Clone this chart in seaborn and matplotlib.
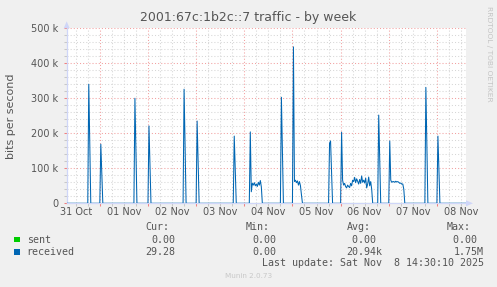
import numpy as np
import pandas as pd
import matplotlib
matplotlib.use("Agg")
import matplotlib.pyplot as plt
from matplotlib.patches import Polygon, Rectangle
import seaborn as sns

# ---------------- data (hours since 31 Oct 00:00, bits per second) ----------------
recv_hours = [7.5,
              18.0, 18.5, 19.5,
              24.0, 24.5, 25.5,
              41.0, 41.5, 42.5,
              48.0, 48.5, 49.5,
              65.5, 66.0, 67.0,
              72.0, 72.5, 73.5,
              90.5, 91.0, 92.0,
              98.5, 99.0, 99.5, 100.0, 100.5, 101.0, 101.5, 102.0, 102.5, 103.0, 103.5, 104.0, 104.5, 105.0,
              114.0, 114.5, 115.5,
              120.0, 120.5, 121.0, 121.5, 122.0, 122.5, 123.0, 123.5, 124.0, 124.5, 125.0,
              138.0, 138.5, 139.0, 140.0,
              144.0, 144.5, 145.0, 145.5, 146.0, 146.5, 147.0, 147.5, 148.0, 148.5, 149.0, 149.5,
              150.0, 150.5, 151.0, 151.5, 152.0, 152.5, 153.0, 153.5, 154.0, 154.5,
              155.0, 155.5, 156.0, 156.5, 157.0, 157.5, 158.0, 158.5, 159.0, 159.5, 160.0,
              162.5, 163.0, 164.0,
              168.0, 168.5, 169.0, 169.5, 170.0, 170.5, 171.0, 171.5, 172.0, 172.5, 173.0, 173.5,
              174.0, 174.5, 175.0, 175.5, 176.0,
              186.0, 186.5, 187.5,
              192.0, 192.5, 193.5,
              206.5]
recv_values = [0,
               0, 340000, 0,
               0, 169000, 0,
               0, 300000, 0,
               0, 221000, 0,
               0, 326000, 0,
               0, 235000, 0,
               0, 192000, 0,
               0, 204000, 33000, 57000, 52000, 59000, 50000, 55000, 48000, 60000, 52000, 65000, 47000, 0,
               0, 303000, 0,
               0, 447000, 62000, 66000, 59000, 64000, 52000, 62000, 50000, 24000, 0,
               0, 172000, 178000, 0,
               0, 203000, 66000, 52000, 57000, 48000, 44000, 52000, 48000, 45000, 57000, 50000,
               66000, 62000, 74000, 59000, 70000, 63000, 55000, 68000, 57000, 78000,
               60000, 66000, 58000, 72000, 44000, 55000, 75000, 50000, 62000, 40000, 0,
               0, 252000, 0,
               0, 178000, 66000, 60000, 62000, 62000, 60000, 63000, 61000, 62000, 60000, 57000,
               58000, 55000, 55000, 40000, 0,
               0, 331000, 0,
               0, 192000, 0,
               29.28]
sent_hours = [7.5, 206.5]
sent_values = [0, 0]

day_labels = ["31 Oct", "01 Nov", "02 Nov", "03 Nov", "04 Nov", "05 Nov", "06 Nov", "07 Nov", "08 Nov"]
y_ticks = [0, 100000, 200000, 300000, 400000, 500000]
y_labels = ["0", "100 k", "200 k", "300 k", "400 k", "500 k"]

legend_names = ["sent", "received"]
legend_colors = ["#00CC00", "#0066B3"]
cur_vals = ["0.00", "29.28"]
min_vals = ["0.00", "0.00"]
avg_vals = ["0.00", "20.94k"]
max_vals = ["0.00", "1.75M"]

# ---------------- figure ----------------
W, H = 497, 287
fig = plt.figure(figsize=(W / 100, H / 100), dpi=100, facecolor="#F0F0F0")


def fx(px):
    return px / W


def fy(py):
    return 1 - py / H


L, R, T, B = 66.7, 466.0, 28.3, 203.3
ax = fig.add_axes([fx(L), fy(B), (R - L) / W, (B - T) / H])
ax.set_facecolor("white")

df_recv = pd.DataFrame({"hour": recv_hours, "bps": recv_values})
df_sent = pd.DataFrame({"hour": sent_hours, "bps": sent_values})
sns.lineplot(data=df_sent, x="hour", y="bps", color=legend_colors[0], linewidth=0.75,
             estimator=None, sort=False, ax=ax, zorder=3)
sns.lineplot(data=df_recv, x="hour", y="bps", color=legend_colors[1], linewidth=0.75,
             estimator=None, sort=False, ax=ax, zorder=4)

ax.set_xlim(7.5, 206.5)
ax.set_ylim(0, 500000)
ax.set_xlabel("")
ax.set_ylabel("")

midnights = [24 * k for k in range(1, 9)]
six_hours = [h for h in range(12, 207, 6) if h % 24 != 0]
ax.set_xticks(midnights)
ax.set_xticks(six_hours, minor=True)
ax.set_xticklabels([])
ax.set_yticks(y_ticks)
ax.set_yticks([v for v in range(0, 500001, 20000) if v % 100000 != 0], minor=True)
ax.set_yticklabels(y_labels)

ax.set_axisbelow(True)
ax.grid(which="major", color="#F2A0A0", linestyle=(0, (1, 2)), linewidth=0.75)
ax.grid(which="minor", color="#D6D6D6", linestyle=(0, (1, 2)), linewidth=0.75)
ax.tick_params(axis="x", which="major", length=2, width=0.75, color="#F08080")
ax.tick_params(axis="x", which="minor", length=2, width=0.75, color="#C8C8C8")
ax.tick_params(axis="y", which="major", length=2, width=0.75, color="#F08080",
               labelsize=7, labelcolor="#555555", pad=4)
ax.tick_params(axis="y", which="minor", length=2, width=0.75, color="#C8C8C8")

for s in ["top", "right"]:
    ax.spines[s].set_visible(False)
for s in ["left", "bottom"]:
    ax.spines[s].set_color("#CFD6F8")
    ax.spines[s].set_linewidth(0.9)

# day labels centred on noon
xt = ax.get_xaxis_transform()
for i, lab in enumerate(day_labels):
    ax.text(12 + 24 * i, -0.05, lab, transform=xt, ha="center", va="center",
            fontsize=7, color="#555555", clip_on=False)

# axis arrows
axis_col = "#CFD6F8"
fig.add_artist(Polygon([[fx(L - 3), fy(T)], [fx(L + 3), fy(T)], [fx(L), fy(T - 7)]],
                       closed=True, transform=fig.transFigure, color=axis_col, lw=0))
fig.add_artist(Polygon([[fx(R), fy(B - 3)], [fx(R), fy(B + 3)], [fx(R + 7), fy(B)]],
                       closed=True, transform=fig.transFigure, color=axis_col, lw=0))

# titles
fig.text(fx(248.5), fy(18), "2001:67c:1b2c::7 traffic - by week", ha="center", va="center",
         fontsize=9, color="#555555")
fig.text(fx(11), fy(116), "bits per second", rotation=90, ha="center", va="center",
         fontsize=8, color="#555555")
fig.text(fx(488.5), fy(53.5), "RRDTOOL / TOBI OETIKER", rotation=270, ha="center", va="center",
         fontsize=5.4, color="#C4C4C4")

# legend block
mono = "DejaVu Sans Mono"
fs = 7.2
col = "#555555"
fig.text(fx(145.7), fy(227.3), "Cur:", ha="left", va="center", fontsize=fs, family=mono, color=col)
fig.text(fx(246.0), fy(227.3), "Min:", ha="left", va="center", fontsize=fs, family=mono, color=col)
fig.text(fx(346.7), fy(227.3), "Avg:", ha="left", va="center", fontsize=fs, family=mono, color=col)
fig.text(fx(447.0), fy(227.3), "Max:", ha="left", va="center", fontsize=fs, family=mono, color=col)

rows_y = [239.6, 251.7]
for i in range(2):
    y = rows_y[i]
    fig.add_artist(Rectangle((fx(14), fy(y + 2.8)), 5.6 / W, 5.6 / H, transform=fig.transFigure,
                             facecolor=legend_colors[i], edgecolor="none"))
    fig.text(fx(26.7), fy(y), legend_names[i], ha="left", va="center", fontsize=fs, family=mono, color=col)
    fig.text(fx(175.5), fy(y), cur_vals[i], ha="right", va="center", fontsize=fs, family=mono, color=col)
    fig.text(fx(276.3), fy(y), min_vals[i], ha="right", va="center", fontsize=fs, family=mono, color=col)
    fig.text(fx(382.5), fy(y), avg_vals[i] if avg_vals[i][-1].isalpha() else avg_vals[i] + " ",
             ha="right", va="center", fontsize=fs, family=mono, color=col)
    fig.text(fx(483.3), fy(y), max_vals[i] if max_vals[i][-1].isalpha() else max_vals[i] + " ",
             ha="right", va="center", fontsize=fs, family=mono, color=col)

fig.text(fx(483.5), fy(263.5), "Last update: Sat Nov  8 14:30:10 2025", ha="right", va="center",
         fontsize=fs, family=mono, color=col)
fig.text(fx(248.5), fy(276.5), "Munin 2.0.73", ha="center", va="center", fontsize=5.2,
         color="#C8C8C8")

fig.savefig("out.png", dpi=100, facecolor=fig.get_facecolor())
